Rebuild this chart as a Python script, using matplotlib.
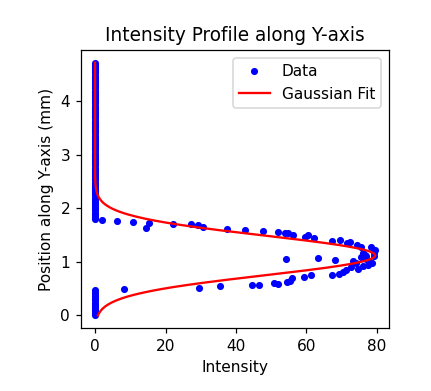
import numpy as np
import matplotlib
matplotlib.use('Agg')
import matplotlib.pyplot as plt

# points with zero intensity (position in mm)
zero_pos = [0.00, 0.04, 0.08, 0.12, 0.16, 0.20, 0.24, 0.28, 0.32, 0.36, 0.40, 0.44, 0.48,
            1.80, 1.84, 1.88, 1.92, 1.96, 2.00, 2.04, 2.08, 2.12, 2.16, 2.20, 2.24, 2.28,
            2.32, 2.36, 2.40, 2.44, 2.48, 2.52, 2.56, 2.60, 2.64, 2.68, 2.72, 2.76, 2.80,
            2.84, 2.88, 2.92, 2.96, 3.00, 3.04, 3.08, 3.12, 3.16, 3.20, 3.24, 3.28, 3.32,
            3.36, 3.40, 3.44, 3.48, 3.52, 3.56, 3.60, 3.64, 3.68, 3.72, 3.76, 3.80, 3.84,
            3.88, 3.92, 3.96, 4.00, 4.04, 4.08, 4.12, 4.16, 4.20, 4.24, 4.28, 4.32, 4.36,
            4.40, 4.44, 4.48, 4.52, 4.56, 4.60, 4.64, 4.68, 4.72]

# non-zero measured points
intensity = [1.9, 6.2, 10.9, 14.4, 15.2, 22.1, 27.3, 29.2, 30.6, 37.5, 42.5,
             47.7, 51.9, 53.8, 54.9, 56.1, 59.5, 60.5, 62.2, 67.3, 69.5, 71.4,
             72.4, 74.3, 75.5, 78.3, 79.5, 79.1, 76.0, 76.9, 79.3, 75.6, 77.0,
             78.0, 76.5, 74.0, 78.5,
             54.1, 63.4, 68.2,
             73.3, 72.6, 74.5, 76.0, 77.4, 71.2, 70.3, 69.3, 67.2, 61.3, 59.2,
             56.0, 55.4, 54.6, 52.0, 50.8, 46.5, 44.6, 35.6, 29.4, 8.1]
position = [1.78, 1.76, 1.74, 1.64, 1.72, 1.70, 1.71, 1.69, 1.66, 1.62, 1.60,
            1.58, 1.56, 1.54, 1.53, 1.51, 1.47, 1.50, 1.45, 1.39, 1.41, 1.36,
            1.37, 1.31, 1.28, 1.27, 1.23, 1.17, 1.16, 1.11, 1.11, 1.10, 1.05,
            1.00, 1.13, 0.98, 0.97,
            1.05, 1.07, 1.03,
            1.02, 0.91, 0.87, 0.92, 0.95, 0.85, 0.81, 0.78, 0.75, 0.75, 0.71,
            0.69, 0.65, 0.63, 0.58, 0.60, 0.56, 0.56, 0.54, 0.52, 0.50]

# gaussian fit parameters
amp, mu, sigma = 79.5, 1.12, 0.37

x_data = np.array([0.0] * len(zero_pos) + intensity)
y_data = np.array(zero_pos + position)

y_fit = np.linspace(0, max(zero_pos), 500)
x_fit = amp * np.exp(-(y_fit - mu) ** 2 / (2 * sigma ** 2))

fig, ax = plt.subplots(figsize=(431 / 111, 391 / 111), dpi=111)
fig.subplots_adjust(left=0.188, right=0.903, top=0.872, bottom=0.161)
ax.plot(x_data, y_data, 'bo', markersize=3.6, label='Data')
ax.plot(x_fit, y_fit, 'r-', label='Gaussian Fit')
ax.set_xlabel('Intensity')
ax.set_ylabel('Position along Y-axis (mm)')
ax.set_title('Intensity Profile along Y-axis')
ax.legend()
plt.savefig('out.png', dpi=111)
